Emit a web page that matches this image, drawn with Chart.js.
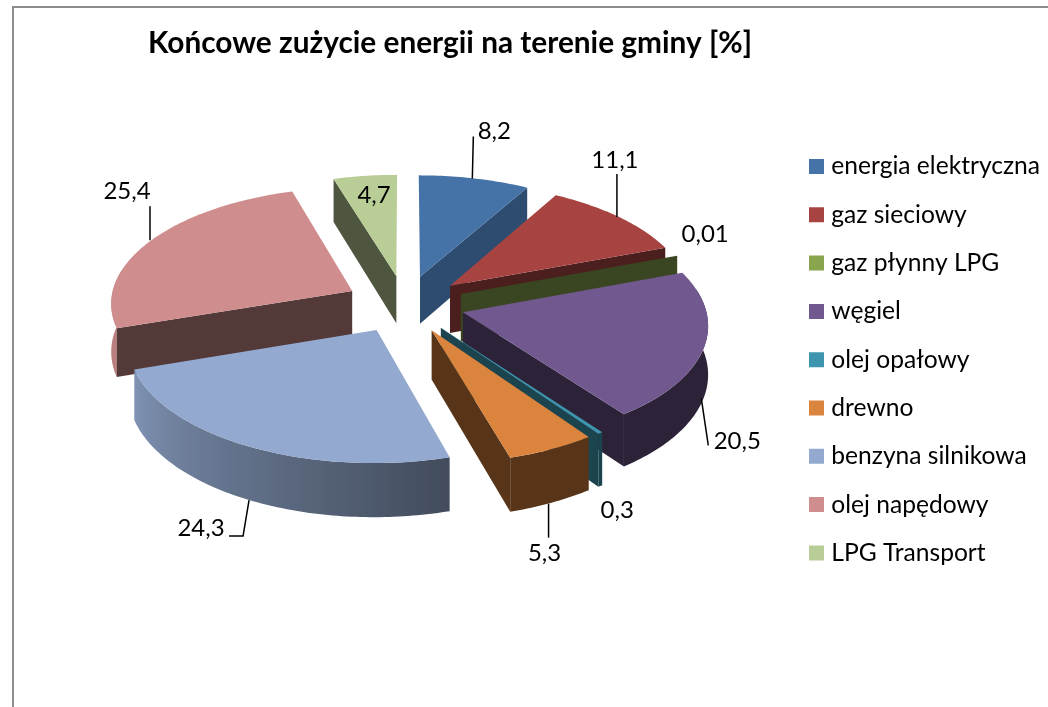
<!DOCTYPE html>
<html lang="pl">
<head>
<meta charset="utf-8">
<style>html,body{margin:0;padding:0;background:#fff}canvas{display:block}</style>
<script src="https://cdn.jsdelivr.net/npm/chart.js@4"></script>
</head>
<body>
<canvas id="c" width="1048" height="707"></canvas>
<script>
const chartTitle = 'Końcowe zużycie energii na terenie gminy [%]';
const categories = ['energia elektryczna','gaz sieciowy','gaz płynny LPG','węgiel','olej opałowy','drewno','benzyna silnikowa','olej napędowy','LPG Transport'];
const values = [8.2,11.1,0.01,20.5,0.3,5.3,24.3,25.4,4.7];
const colors = ['#4572A7','#A74442','#89A54E','#71588F','#3E96AE','#DB843D','#93A9CF','#CF8E8D','#B9CD96'];
const cutShade = [0.67,0.45,0.42,0.4,0.45,0.4,0.45,0.4,0.42];

// Projection of the pie plane (tilted, with perspective)
const VIEW = {cx:405, cy:304, tilt:0.478, persp:0.000383, depth:48};
// Label placement relative to the slice's rim point at mid-angle
const labelStyle = [
  {text:[20,-47], line:[[-2,0],[-1,-42]]},
  {text:[-4,-57], line:[[-2,0],[-2,-43]]},
  {text:[28,-21]},
  {low:true, text:[33,45], line:[[-3,2],[4,49]]},
  {low:true, text:[17,24]},
  {low:true, text:[-7,51], line:[[-3,1],[-3,35]]},
  {low:true, text:[-48,28], line:[[0,0],[-6,36],[-20,36]]},
  {text:[-23,-50], line:[[0,-1],[0,-35]]},
  {text:[9,19]}
];
const FONT = 'Lato, Carlito, Calibri, sans-serif';
const LEGEND_AT = {boxLeft:809, firstMid:166.5};
const TITLE_MID = {x:450, y:43};

function rgb(hex){return [1,3,5].map(i=>parseInt(hex.substr(i,2),16));}
function shade(hex,f){return 'rgb('+rgb(hex).map(v=>Math.round(v*f)).join(',')+')';}
function rimShade(deg,i){
  if(deg<165) return cutShade[i];
  if(deg<251) return 0.45+(deg-165)/(251-165)*0.42;
  return Math.min(0.92,0.87+(deg-251)/60*0.1);
}
function project(X,Y,z){
  const p=1/(1-VIEW.persp*Y);
  return {x:VIEW.cx+X*p, y:VIEW.cy+VIEW.tilt*Y*p+(z?VIEW.depth*p:0)};
}
function worldPoint(off,mid,r,a){
  return [off*Math.sin(mid)+r*Math.sin(a), -off*Math.cos(mid)-r*Math.cos(a)];
}
function fillPoly(ctx,pts,color){
  ctx.beginPath();pts.forEach((p,i)=>i?ctx.lineTo(p.x,p.y):ctx.moveTo(p.x,p.y));ctx.closePath();
  ctx.fillStyle=color;ctx.fill();
}
function rimFill(ctx,front,base,idx){
  // horizontal gradient sampled along the part of the rim that faces the viewer
  const xs=front.map(p=>p.t.x), x0=Math.min(...xs), x1=Math.max(...xs);
  const g=ctx.createLinearGradient(x0,0,x1,0);
  front.forEach(p=>g.addColorStop((p.t.x-x0)/Math.max(1,x1-x0),shade(base,rimShade(p.a*180/Math.PI,idx))));
  return g;
}

const pie3d = {
  id:'pie3d',
  beforeDatasetDraw(chart,args){
    const ctx=chart.ctx, arcs=args.meta.data;
    const slices=arcs.map((el,i)=>{
      const s=el.startAngle+Math.PI/2, e=el.endAngle+Math.PI/2, m=(s+e)/2;
      return {i,s,e,m,r:el.outerRadius,off:el.options.offset};
    });
    const order=slices.slice().sort((a,b)=>(-Math.cos(a.m))-(-Math.cos(b.m)));
    ctx.save();
    for(const sl of order){
      const base=colors[sl.i], steps=Math.max(2,Math.ceil((sl.e-sl.s)/(Math.PI/180)));
      const ap=worldPoint(sl.off,sl.m,0,0);
      const apT=project(ap[0],ap[1],false), apB=project(ap[0],ap[1],true);
      const rim=[];
      for(let k=0;k<=steps;k++){
        const a=sl.s+(sl.e-sl.s)*k/steps, w=worldPoint(sl.off,sl.m,sl.r,a);
        rim.push({a,t:project(w[0],w[1],false),b:project(w[0],w[1],true),Y:w[1]});
      }
      const first=rim[0], last=rim[rim.length-1], cut=shade(base,cutShade[sl.i]);
      const front=rim.filter(p=>Math.cos(p.a)<0.2);
      if(front.length>1) fillPoly(ctx,front.map(p=>p.t).concat(front.map(p=>p.b).reverse()),rimFill(ctx,front,base,sl.i));
      if(-Math.sin(sl.s)>0) fillPoly(ctx,[apT,first.t,first.b,apB],cut);
      if(Math.sin(sl.e)>0) fillPoly(ctx,[apT,last.t,last.b,apB],cut);
      fillPoly(ctx,[apT].concat(rim.map(p=>p.t)),base);
    }
    // value labels and leader lines
    ctx.font='24px '+FONT;ctx.textAlign='center';ctx.textBaseline='middle';
    slices.forEach(sl=>{
      const st=labelStyle[sl.i], w=worldPoint(sl.off,sl.m,sl.r,sl.m), an=project(w[0],w[1],!!st.low);
      if(st.line){
        ctx.beginPath();
        st.line.forEach((p,j)=>{j?ctx.lineTo(an.x+p[0],an.y+p[1]):ctx.moveTo(an.x+p[0],an.y+p[1]);});
        ctx.strokeStyle='#000';ctx.lineWidth=1.5;ctx.stroke();
      }
      ctx.fillStyle='#000';
      ctx.fillText(String(values[sl.i]).replace('.',','),an.x+st.text[0],an.y+st.text[1]);
    });
    ctx.restore();
    return false;
  }
};
const frame = {
  id:'frame',
  beforeDraw(chart){
    const ctx=chart.ctx;
    ctx.save();ctx.fillStyle='#fff';ctx.fillRect(0,0,chart.width,chart.height);
    ctx.fillStyle='#8c8c8c';ctx.fillRect(12,6,chart.width-12,2);ctx.fillRect(12,6,2,chart.height-6);
    ctx.restore();
    const lg=chart.legend, o=lg.options.labels;
    const h=lg.width, tb=chart.titleBlock;
    lg.left=LEGEND_AT.boxLeft+5-o.padding;lg.right=lg.left+h;
    lg.top=LEGEND_AT.firstMid-o.font.size/2-o.padding;lg.bottom=chart.height+200;
    tb.left=TITLE_MID.x-310;tb.right=TITLE_MID.x+310;
    const th=tb.bottom-tb.top;tb.top=TITLE_MID.y-th/2;tb.bottom=TITLE_MID.y+th/2;
  }
};

new Chart(document.getElementById('c'),{
  type:'pie',
  data:{labels:categories,datasets:[{data:values,backgroundColor:colors,borderColor:colors,borderWidth:10,offset:60}]},
  plugins:[frame,pie3d],
  options:{
    responsive:false,animation:false,radius:242,
    plugins:{
      tooltip:{enabled:false},
      title:{display:true,text:chartTitle,color:'#000',font:{family:FONT,size:29.8,weight:'bold'},padding:0},
      legend:{position:'right',align:'start',labels:{boxWidth:5,boxHeight:5,padding:23.7,color:'#000',font:{family:FONT,size:24.6}}}
    }
  }
});
</script>
</body>
</html>
